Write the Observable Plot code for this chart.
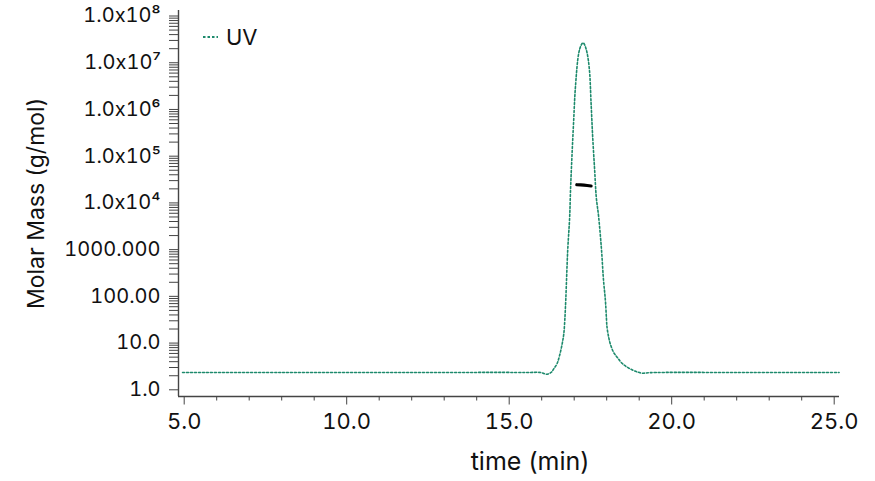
<!DOCTYPE html>
<html><head><meta charset="utf-8">
<script src="https://cdn.jsdelivr.net/npm/d3@7"></script>
<script src="https://cdn.jsdelivr.net/npm/@observablehq/plot@0.6"></script>
<style>
html,body{margin:0;padding:0;background:#fff;}
#wrap{position:relative;width:875px;height:481px;font-family:Inter, sans-serif;}
#legend{position:absolute;left:203px;top:25px;display:flex;align-items:center;font-size:22px;color:#111;line-height:24px;}
</style></head><body>
<div id="wrap"><div id="legend"><svg width="15" height="6"><line x1="0" y1="3" x2="15" y2="3" stroke="#1d8a6c" stroke-width="2.2" stroke-dasharray="2.5,2"/></svg><span style="margin-left:8px">UV</span></div></div>
<script>
// UV trace (time in min, plotted on the molar-mass log axis)
const uvTime = [4.95, 8.0, 12.0, 15.5, 15.99, 16.14, 16.29, 16.37, 16.47, 16.55, 16.63, 16.68, 16.71, 16.74, 16.80, 16.86, 16.89, 16.935, 16.984, 17.037, 17.138, 17.21, 17.273, 17.33, 17.40, 17.47, 17.52, 17.57, 17.63, 17.68, 17.75, 17.84, 17.90, 17.96, 17.99, 18.01, 18.06, 18.11, 18.21, 18.32, 18.47, 18.63, 18.78, 18.93, 19.09, 19.34, 22.0, 25.15];
const uvValue = [2.35, 2.35, 2.35, 2.35, 2.33, 2.15, 2.35, 2.81, 3.60, 5.42, 9.66, 15.8, 30.4, 81.5, 956, 4900, 21400, 115000, 581000, 2.96e6, 1.58e7, 2.34e7, 2.67e7, 2.34e7, 1.58e7, 6.82e6, 1.34e6, 2.5e5, 49400, 13060, 5200, 1000, 230, 81.5, 35.8, 21.9, 13.4, 9.66, 6.38, 4.99, 3.71, 3.05, 2.68, 2.43, 2.27, 2.33, 2.35, 2.35];
// Molar mass across the peak
const mmTime = [17.08, 17.2, 17.3, 17.4, 17.52];
const mmValue = [24500, 24300, 24000, 23600, 23000];
// Axis ticks
const xMajor = [5, 10, 15, 20, 25];
const xTickLabels = ["5.0", "10.0", "15.0", "20.0", "25.0"];
const xMinor = [6, 7, 8, 9, 11, 12, 13, 14, 16, 17, 18, 19, 21, 22, 23, 24];
const yMajor = [1, 10, 100, 1000, 1e4, 1e5, 1e6, 1e7, 1e8];
const yTickLabels = ["1.0", "10.0", "100.00", "1000.000", "1.0x10⁴", "1.0x10⁵", "1.0x10⁶", "1.0x10⁷", "1.0x10⁸"];
const yMinor = [];
for (const d of [1, 10, 100, 1000, 1e4, 1e5, 1e6, 1e7]) for (const m of [2,3,4,5,6,7,8,9]) yMinor.push(m * d);

const uvRows = uvTime.map((t, i) => ({time: t, value: uvValue[i]}));
const mmRows = mmTime.map((t, i) => ({time: t, value: mmValue[i]}));
const xLab = new Map(xMajor.map((v, i) => [v, xTickLabels[i]]));
const yLab = new Map(yMajor.map((v, i) => [v, yTickLabels[i]]));
const xDom = [4.825, 25.163];
const yDom = [0.719, Math.pow(10, 8.118)];
const axisColor = "#444";

const chart = Plot.plot({
  width: 875, height: 481,
  marginLeft: 178, marginRight: 36, marginTop: 10, marginBottom: 85,
  style: {fontFamily: "Inter, sans-serif", fontSize: "20px", color: "#111", background: "#fff", overflow: "visible"},
  x: {domain: xDom},
  y: {type: "log", domain: yDom},
  marks: [
    Plot.axisY({ticks: yMinor, tickSize: 9, tickFormat: () => "", stroke: axisColor, label: null}),
    Plot.axisY({ticks: yMajor, tickSize: 9, tickPadding: 9, tickFormat: d => yLab.get(d), stroke: axisColor, fill: "#111", fontSize: 20, label: null}),
    Plot.axisX({ticks: xMinor, tickSize: 4.5, tickFormat: () => "", stroke: axisColor, label: null}),
    Plot.axisX({ticks: xMajor, tickSize: 8.5, tickPadding: 8, tickFormat: d => xLab.get(d), stroke: axisColor, fill: "#111", fontSize: 22, label: null}),
    Plot.ruleX([xDom[0]], {stroke: axisColor, strokeWidth: 1.4}),
    Plot.ruleY([yDom[0]], {stroke: axisColor, strokeWidth: 1.4}),
    Plot.line(uvRows, {x: "time", y: "value", stroke: "#1d8a6c", strokeWidth: 1.6, strokeDasharray: "2,2", curve: "catmull-rom"}),
    Plot.line(mmRows, {x: "time", y: "value", stroke: "#000", strokeWidth: 3.2}),
    Plot.text(["Molar Mass (g/mol)"], {frameAnchor: "left", textAnchor: "middle", lineAnchor: "middle", rotate: -90, dx: -142, fontSize: 23, fill: "#111"}),
    Plot.text(["time (min)"], {frameAnchor: "bottom", textAnchor: "middle", lineAnchor: "middle", dy: 65, dx: 21, fontSize: 25, fill: "#111"})
  ]
});
document.getElementById("wrap").prepend(chart);
</script>
</body></html>
